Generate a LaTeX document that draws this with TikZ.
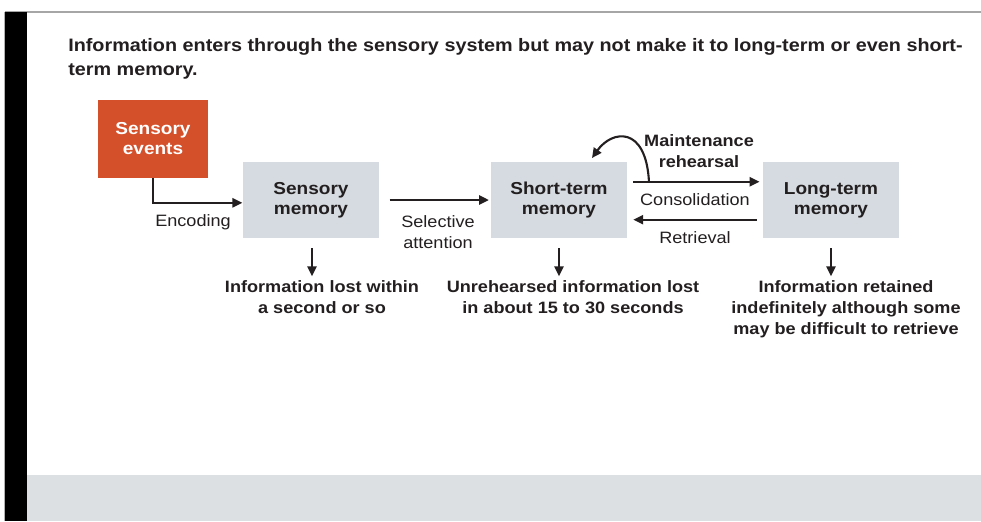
\documentclass[tikz,border=0pt]{standalone}
\usepackage{fontspec}
\setmainfont[FakeStretch=1.1]{Liberation Sans}
\usetikzlibrary{positioning, arrows.meta, calc}
\definecolor{boxgray}{HTML}{D5DBE0}
\definecolor{bandgray}{HTML}{DCE0E3}
\definecolor{eventorange}{HTML}{D4502A}
\definecolor{textdark}{HTML}{231F20}
\begin{document}
\begin{tikzpicture}[
    x=0.025cm,y=-0.025cm,
    memory/.style={rectangle, fill=boxgray, minimum width=3.42cm, minimum height=1.9cm, align=center, font=\bfseries\fontsize{12.3}{14.2}\selectfont, text=textdark},
    source/.style={rectangle, fill=eventorange, minimum width=2.75cm, minimum height=1.95cm, align=center, font=\bfseries\fontsize{12.3}{14.2}\selectfont, text=white},
    lbl/.style={align=center, font=\fontsize{11.7}{14.5}\selectfont, text=textdark, inner sep=1pt},
    note/.style={align=center, font=\bfseries\fontsize{11.7}{15}\selectfont, text=textdark, inner sep=1pt},
    flow/.style={draw=textdark, line width=1.5pt, -{Triangle[length=7pt,width=6.5pt]}}
]
    \useasboundingbox (0,0) rectangle (981,521);

    % --- Frame ---
    \fill[bandgray] (27,475) rectangle (981,521);
    \draw[gray!70, line width=1.2pt] (5,12) -- (981,12);
    \fill[black] (5,12) rectangle (27,521);
    \draw[gray!60, line width=0.5pt] (4,12) -- (4,521);

    % --- Title ---
    \node[anchor=north west, align=left, inner sep=0pt, font=\bfseries\fontsize{12.8}{17}\selectfont, text=textdark] (title) at (68,38)
        {Information enters through the sensory system but may not make it to long-term or even short-\\term memory.};

    % --- Boxes ---
    \node[source] (src) at (153,139) {Sensory\\events};
    \node[memory] (smem) at (311,200) {Sensory\\memory};
    \node[memory] (stm) at (559,200) {Short-term\\memory};
    \node[memory] (ltm) at (831,200) {Long-term\\memory};

    % --- Connections ---
    \draw[flow] (src.south) |- ([yshift=-2pt]smem.west);
    \draw[flow, shorten <=7pt, shorten >=1pt] (smem.east) -- (stm.west);
    \draw[flow, shorten <=4pt, shorten >=2pt] ([yshift=13pt]stm.east) -- ([yshift=13pt]ltm.west);
    \draw[flow, shorten <=4pt, shorten >=4pt] ([yshift=-14pt]ltm.west) -- ([yshift=-14pt]stm.east);

    \coordinate (mr_start) at (649,182);
    \coordinate (mr_end) at (592,158);
    \draw[flow] (mr_start) .. controls (646,125) and (612,130) .. (mr_end);

    % --- Labels ---
    \node[lbl] (l_enc) at (193,222) {Encoding};
    \node[lbl] (l_sel) at (438,232) {Selective\\attention};
    \node[lbl] (l_con) at (695,200) {Consolidation};
    \node[lbl] (l_ret) at (695,238) {Retrieval};
    \node[note] (l_mr) at (699,151) {Maintenance\\rehearsal};

    % --- Outcomes ---
    \node[note, anchor=north] (o_smem) at (322,279) {Information lost within\\a second or so};
    \node[note, anchor=north] (o_stm) at (573,279) {Unrehearsed information lost\\in about 15 to 30 seconds};
    \node[note, anchor=north] (o_ltm) at (846,279) {Information retained\\indefinitely although some\\may be difficult to retrieve};

    \draw[flow, line width=1.3pt, shorten <=7pt, shorten >=2pt] (smem.south -| o_smem.north) ++(-10,0) coordinate (d1) -- (d1 |- o_smem.north);
    \draw[flow, line width=1.3pt, shorten <=7pt, shorten >=2pt] (stm.south) -- (stm.south |- o_stm.north);
    \draw[flow, line width=1.3pt, shorten <=7pt, shorten >=2pt] (ltm.south) -- (ltm.south |- o_ltm.north);

\end{tikzpicture}
\end{document}
